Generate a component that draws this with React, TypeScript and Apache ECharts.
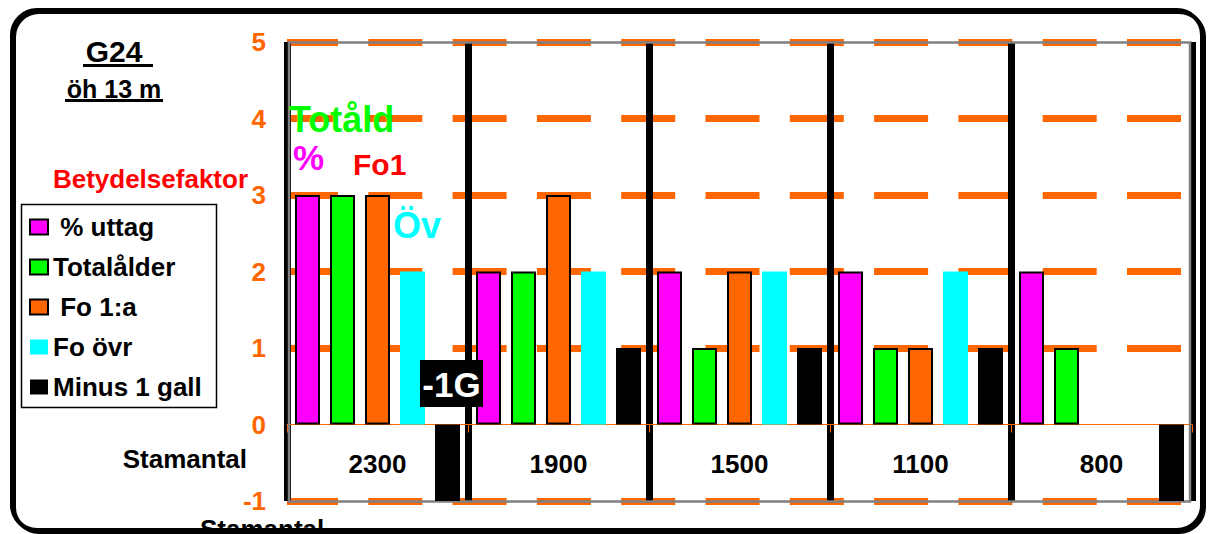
import React, { useEffect, useRef } from 'react';
import * as echarts from 'echarts';

const categories = ['2300', '1900', '1500', '1100', '800'];
const pctUttag = [3, 2, 2, 2, 2];
const totalalder = [3, 2, 1, 1, 1];
const fo1a: (number | null)[] = [3, 3, 2, 1, null];
const foOvr: (number | null)[] = [2, 2, 2, 2, null];
const minus1Gall = [-1, 1, 1, 1, -1];

const seriesNames = ['% uttag', 'Totalålder', 'Fo 1:a', 'Fo övr', 'Minus 1 gall'];
const seriesColors = ['#FF00FF', '#00FF00', '#FF6600', '#00FFFF', '#000000'];
const seriesBorders = [2, 2, 2, 0, 0];
const seriesData = [pctUttag, totalalder, fo1a, foOvr, minus1Gall];

const FONT = '"Liberation Sans", Arial, sans-serif';

function txt(text: string, x: number, y: number, size: number, fill: string, align = 'left', z = 3) {
  return {
    type: 'text',
    z,
    style: {
      text,
      x,
      y,
      fill,
      fontSize: size,
      fontWeight: 'bold',
      fontFamily: FONT,
      align,
      textAlign: align,
      verticalAlign: 'middle',
      textVerticalAlign: 'middle',
    },
  };
}

export default function App() {
  const ref = useRef<HTMLDivElement>(null);
  useEffect(() => {
    if (!ref.current) return;
    const chart = echarts.init(ref.current, undefined, { renderer: 'svg' });
    const option: any = {
      animation: false,
      backgroundColor: '#ffffff',
      textStyle: { fontFamily: FONT },
      grid: { left: 287, right: 16, top: 42, bottom: 33, show: false, containLabel: false, outerBoundsMode: 'none' },
      legend: {
        orient: 'vertical',
        left: 29,
        top: 214,
        padding: 0,
        itemWidth: 18,
        itemHeight: 15,
        itemGap: 14,
        icon: 'rect',
        data: seriesNames,
        formatter: (n: string) => (n === '% uttag' || n === 'Fo 1:a' ? '\u00a0' + n : n),
        textStyle: { fontSize: 26, fontWeight: 'bold', color: '#000', lineHeight: 24, fontFamily: FONT },
      },
      xAxis: [
        {
          type: 'category',
          data: categories,
          z: 1,
          axisLine: { onZero: true, lineStyle: { color: '#FF6600', width: 1 } },
          axisTick: { show: true, length: 8, lineStyle: { color: '#FF6600', width: 1 } },
          axisLabel: { show: false },
          splitLine: { show: true, lineStyle: { color: '#000', width: 7 } },
        },
        {
          type: 'category',
          data: categories,
          position: 'bottom',
          offset: -50,
          z: 1,
          axisLine: { show: false, onZero: false },
          axisTick: { show: false },
          splitLine: { show: false },
          axisLabel: { margin: 0, fontSize: 26, fontWeight: 'bold', color: '#000', fontFamily: FONT },
        },
      ],
      yAxis: {
        type: 'value',
        min: -1,
        max: 5,
        interval: 1,
        z: 0,
        axisLine: { show: false },
        axisTick: { show: false },
        axisLabel: { margin: 21, fontSize: 26, fontWeight: 'bold', color: '#FF6600', fontFamily: FONT },
        splitLine: {
          show: true,
          lineStyle: {
            color: ['#FF6600', 'rgba(0,0,0,0)', '#FF6600', '#FF6600', '#FF6600', '#FF6600', '#FF6600'],
            width: 7,
            type: [54, 30.3],
            dashOffset: 3.3,
          },
        },
      },
      series: seriesNames.map((name, i) => ({
        name,
        type: 'bar',
        xAxisIndex: 0,
        data: seriesData[i],
        barWidth: 25,
        barGap: '40%',
        z: 2,
        itemStyle: {
          color: seriesColors[i],
          borderColor: '#000',
          borderWidth: seriesBorders[i],
        },
      })),
      graphic: [
        txt('Stamantal', 200, 529, 26, '#000', 'left', 0),
        {
          type: 'rect',
          z: 10,
          shape: { x: 12, y: 10, width: 1190, height: 520, r: 25 },
          style: { fill: 'none', stroke: '#000', lineWidth: 4, shadowColor: '#000', shadowOffsetX: 2, shadowOffsetY: 2, shadowBlur: 0 },
        },
        {
          type: 'rect',
          z: 1.5,
          shape: { x: 289, y: 42.5, width: 901, height: 459 },
          style: { fill: 'none', stroke: '#808080', lineWidth: 2.5 },
        },
        txt('G24', 114, 51, 30, '#000', 'center'),
        { type: 'line', z: 3, shape: { x1: 83, y1: 65.5, x2: 153, y2: 65.5 }, style: { stroke: '#000', lineWidth: 3 } },
        txt('öh 13 m', 114, 88.5, 25, '#000', 'center'),
        { type: 'line', z: 3, shape: { x1: 65, y1: 100.5, x2: 163, y2: 100.5 }, style: { stroke: '#000', lineWidth: 3 } },
        txt('Betydelsefaktor', 248, 179, 26, '#FF0000', 'right'),
        txt('Stamantal', 247, 459, 26, '#000', 'right'),
        {
          type: 'rect',
          z: 3,
          shape: { x: 21.5, y: 204.5, width: 195, height: 203 },
          style: { fill: 'none', stroke: '#000', lineWidth: 1.5 },
        },
        txt('Totåld', 289, 119, 36, '#00FF00', 'left', 4),
        txt('%', 293, 157, 35, '#FF00FF', 'left', 4),
        txt('Fo1', 353, 164, 30, '#FF0000', 'left', 4),
        txt('Öv', 393, 225, 36, '#00FFFF', 'left', 4),
        {
          type: 'rect',
          z: 5,
          shape: { x: 420, y: 360, width: 63, height: 47 },
          style: { fill: '#000' },
        },
        txt('-1G', 451.5, 384, 35, '#FFFFFF', 'center', 6),
      ],
    };
    chart.setOption(option);
    return () => chart.dispose();
  }, []);
  return <div ref={ref} style={{ position: 'absolute', left: 0, top: 0, width: 1208, height: 534 }} />;
}
